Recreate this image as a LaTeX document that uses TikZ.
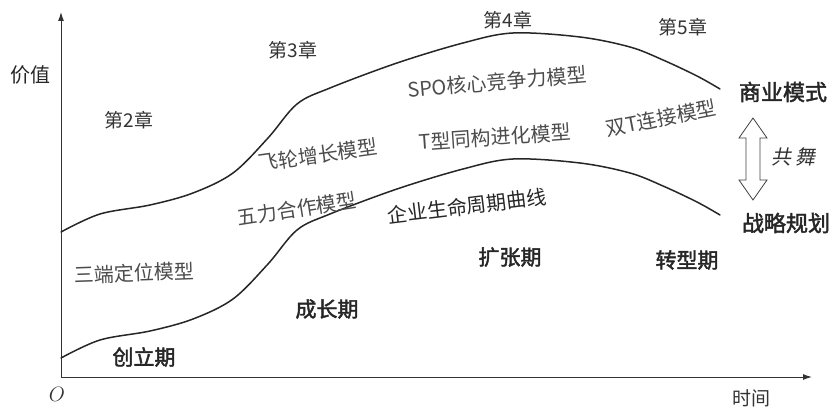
\documentclass[tikz,border=0pt]{standalone}
\usepackage{fontspec}
\newfontfamily\cjk{Noto Sans CJK SC}
\newfontfamily\cjkb[FakeBold=2]{Noto Sans CJK SC}
\usetikzlibrary{arrows.meta}
\begin{document}
\begin{tikzpicture}[x=1pt,y=-1pt,
  model/.style={text=black!70, font=\cjk\fontsize{20}{20}\selectfont, inner sep=0pt},
  chap/.style={text=black!80, font=\cjk\fontsize{19}{19}\selectfont, inner sep=0pt},
  period/.style={text=black!85, font=\cjkb\fontsize{21}{21}\selectfont, inner sep=0pt},
  side/.style={text=black!85, font=\cjkb\fontsize{22}{22}\selectfont, inner sep=0pt},
  curve/.style={line width=1.5pt, black!85, line cap=round}]
\useasboundingbox (0,0) rectangle (833,409);
% axes
\coordinate (o) at (61,377);
\coordinate (ytop) at (61,12);
\coordinate (xend) at (812,377);
\draw[line width=1pt, black!80, -{Latex[length=9pt,width=6pt]}] (o) -- (ytop);
\draw[line width=1pt, black!80, -{Latex[length=9pt,width=6pt]}] (o) -- (xend);
% curves
\def\curvepts{(61,232) (100,214) (150,205) (193,193) (233,173) (268,138) (297,104) (330,88) (397,63) (463,43) (513,33) (580,37) (630,47) (663,60) (697,76) (720,89)}
\draw[curve] plot[smooth, tension=0.55] coordinates {\curvepts};
\draw[curve, yshift=-126pt] plot[smooth, tension=0.55] coordinates {\curvepts};
% axis labels
\node[font=\cjk\fontsize{20}{20}\selectfont, text=black!85, inner sep=0pt] (val) at (30,75) {价值};
\node[font=\itshape\fontsize{22}{22}\selectfont, text=black!80, inner sep=0pt] (orig) at (57,394) {$O$};
\node[font=\cjk\fontsize{19}{19}\selectfont, text=black!80, inner sep=0pt] (time) at (751,398) {时间};
% chapters
\node[chap] (c2) at (129,120) {第2章};
\node[chap] (c3) at (293,50) {第3章};
\node[chap] (c4) at (508,20) {第4章};
\node[chap] (c5) at (683,27) {第5章};
% models
\node[model, rotate=2] (m1) at (134,273) {三端定位模型};
\node[model, rotate=9] (m2) at (297,209) {五力合作模型};
\node[model, rotate=8] (m3) at (318,155) {飞轮增长模型};
\node[model, rotate=5] (m4) at (497,82) {SPO核心竞争力模型};
\node[model, rotate=4] (m5) at (495,137) {T型同构进化模型};
\node[model, rotate=11] (m6) at (661,118) {双T连接模型};
\node[model, rotate=7, text=black!85] (lc) at (467,206) {企业生命周期曲线};
% periods
\node[period] (p1) at (144,357) {创立期};
\node[period] (p2) at (327,309) {成长期};
\node[period] (p3) at (510,257) {扩张期};
\node[period] (p4) at (687,260) {转型期};
% right side
\node[side] (bm) at (783,92) {商业模式};
\node[side] (sp) at (786,223) {战略规划};
\draw[line width=0.8pt, black!75, line join=miter]
  (753,118) -- (767,138) -- (760,138) -- (760,180) -- (767,180) -- (753,200)
  -- (739,180) -- (746,180) -- (746,138) -- (739,138) -- cycle;
\node[font=\cjk\fontsize{20}{20}\selectfont, text=black!80, xslant=0.2, inner sep=0pt] (gw) at (795,157) {共\hspace{4pt}舞};
\end{tikzpicture}
\end{document}
